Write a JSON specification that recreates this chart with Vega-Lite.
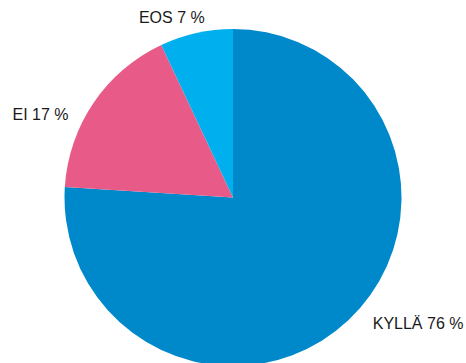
{
  "$schema": "https://vega.github.io/schema/vega-lite/v6.json",
  "width": 466,
  "height": 331,
  "autosize": {"type": "none"},
  "padding": {"left": 0, "top": 32, "right": 0, "bottom": 0},
  "background": "white",
  "view": {"stroke": null},
  "data": {"values": [
    {"answer": "KYLLÄ", "share": 76, "label": "KYLLÄ 76 %"},
    {"answer": "EI", "share": 17, "label": "EI 17 %"},
    {"answer": "EOS", "share": 7, "label": "EOS 7 %"}
  ]},
  "transform": [
    {"stack": "share", "groupby": [], "sort": [{"field": "share", "order": "descending"}], "as": ["s0", "s1"]},
    {"calculate": "(datum.s0 + datum.s1) / 2", "as": "mid"}
  ],
  "layer": [
    {
      "mark": {"type": "arc", "outerRadius": 168.5},
      "encoding": {
        "theta": {"field": "s0", "type": "quantitative", "scale": {"domain": [0, 100]}},
        "theta2": {"field": "s1"},
        "color": {"field": "answer", "type": "nominal", "scale": {"domain": ["KYLLÄ", "EI", "EOS"], "range": ["#0089CA", "#E85B88", "#00B0EE"]}, "legend": null}
      }
    },
    {
      "transform": [{"filter": "datum.answer === 'KYLLÄ'"}],
      "mark": {"type": "text", "align": "left", "baseline": "alphabetic", "radius": 192, "thetaOffset": -0.061, "font": "Liberation Sans", "fontSize": 16, "color": "#1a1a1a"},
      "encoding": {
        "theta": {"field": "mid", "type": "quantitative", "scale": {"domain": [0, 100]}},
        "text": {"field": "label"}
      }
    },
    {
      "transform": [{"filter": "datum.answer === 'EI'"}],
      "mark": {"type": "text", "align": "right", "baseline": "alphabetic", "radius": 182, "thetaOffset": -0.154, "font": "Liberation Sans", "fontSize": 16, "color": "#1a1a1a"},
      "encoding": {
        "theta": {"field": "mid", "type": "quantitative", "scale": {"domain": [0, 100]}},
        "text": {"field": "label"}
      }
    },
    {
      "transform": [{"filter": "datum.answer === 'EOS'"}],
      "mark": {"type": "text", "align": "center", "baseline": "alphabetic", "radius": 185, "thetaOffset": -0.117, "font": "Liberation Sans", "fontSize": 16, "color": "#1a1a1a"},
      "encoding": {
        "theta": {"field": "mid", "type": "quantitative", "scale": {"domain": [0, 100]}},
        "text": {"field": "label"}
      }
    }
  ]
}
